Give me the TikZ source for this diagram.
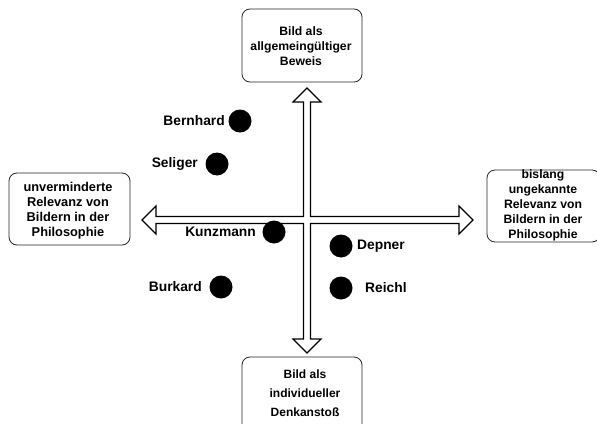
\documentclass[tikz,border=0pt]{standalone}
\usepackage{fontspec}
\setmainfont{Liberation Sans}
\begin{document}
\begin{tikzpicture}[x=1pt,y=-1pt,
  box/.style={draw=black!85,line width=0.8pt,rounded corners=8pt},
  boxtext/.style={font=\bfseries\fontsize{12.2}{15.3}\selectfont,align=center,inner sep=0pt},
  lbl/.style={font=\bfseries\fontsize{13.8}{16}\selectfont,inner sep=0pt},
  dot/.style={circle,fill=black,minimum size=23pt,inner sep=0pt}]
\useasboundingbox (0,0) rectangle (597,423);
% boxes
\draw[box] (242,9) rectangle (362,82);
\node[boxtext] (top) at (301,46) {Bild als\\allgemeingültiger\\Beweis};
\draw[box] (9,173) rectangle (130,245);
\node[boxtext,font=\bfseries\fontsize{12.8}{15}\selectfont] (left) at (68,210.5) {unverminderte\\Relevanz von\\Bildern in der\\Philosophie};
\draw[box] (487,170) rectangle (600,242);
\node[boxtext,font=\bfseries\fontsize{12.2}{15}\selectfont] (right) at (543,205) {bislang\\ungekannte\\Relevanz von\\Bildern in der\\Philosophie};
\draw[box] (242,357) rectangle (362,440);
\node[boxtext,font=\bfseries\fontsize{12}{19}\selectfont] (bottom) at (305,393) {Bild als\\individueller\\Denkanstoß};
% cross arrow
\draw[line width=1.1pt,fill=white,line join=miter]
 (307,88) -- (321,102) -- (310.5,102) -- (310.5,216.5) -- (459,216.5) -- (459,206) -- (473,220)
 -- (459,234) -- (459,223.5) -- (310.5,223.5) -- (310.5,339) -- (321,339) -- (307,353)
 -- (293,339) -- (303.5,339) -- (303.5,223.5) -- (156,223.5) -- (156,234) -- (142,220)
 -- (156,206) -- (156,216.5) -- (303.5,216.5) -- (303.5,102) -- (293,102) -- cycle;
% dots and labels
\node[dot] (d1) at (240,121) {};
\node[lbl,anchor=east] (l1) at (225,121) {Bernhard};
\node[dot] (d2) at (217,164) {};
\node[lbl,anchor=east] (l2) at (198,164) {Seliger};
\node[dot] (d3) at (274,232) {};
\node[lbl,anchor=east] (l3) at (256,232) {Kunzmann};
\node[dot] (d4) at (221,287) {};
\node[lbl,anchor=east] (l4) at (202,287) {Burkard};
\node[dot] (d5) at (341,246) {};
\node[lbl,anchor=west] (l5) at (357,246) {Depner};
\node[dot] (d6) at (341,288) {};
\node[lbl,anchor=west] (l6) at (365,288) {Reichl};
\end{tikzpicture}
\end{document}
